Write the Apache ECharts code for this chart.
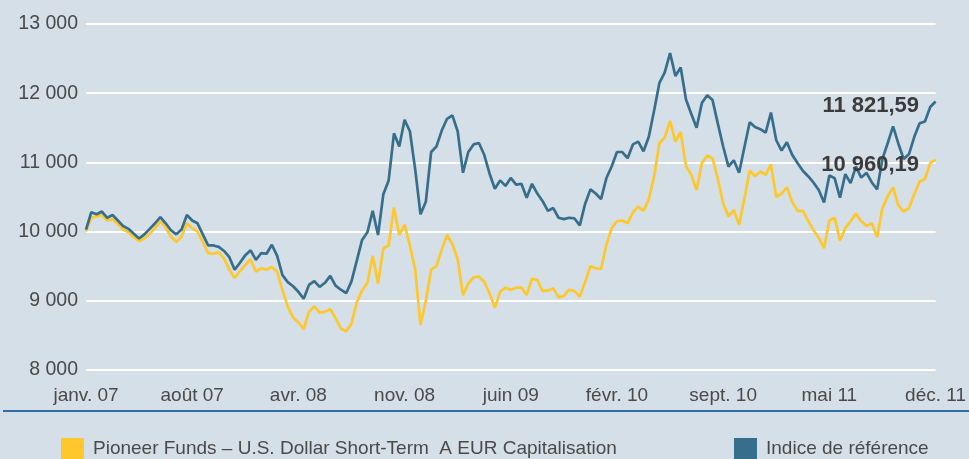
<!DOCTYPE html>
<html>
<head>
<meta charset="utf-8">
<title>Pioneer Funds</title>
<script src="https://cdn.jsdelivr.net/npm/echarts@6/dist/echarts.min.js"></script>
<style>
  html, body { margin: 0; padding: 0; background: #d5dfe7; }
  #chart { width: 969px; height: 459px; }
</style>
</head>
<body>
<div id="chart"></div>
<script>
// libellés de l'axe des x (un tous les 20 points)
const tickLabels = ['janv. 07', 'août 07', 'avr. 08', 'nov. 08', 'juin 09', 'févr. 10', 'sept. 10', 'mai 11', 'déc. 11']
const step = 20

const seriesNames = ['Pioneer Funds – U.S. Dollar Short-Term  A EUR Capitalisation', 'Indice de référence']
const endValues = [10960.19, 11821.59]

// fonds (jaune)
const fundValues = [
  10000, 10200, 10220, 10240, 10160, 10180, 10110, 10030, 9990, 9920,
  9860, 9900, 9970, 10050, 10150, 10060, 9930, 9850, 9930, 10120,
  10050, 10000, 9850, 9690, 9680, 9700, 9610, 9450, 9330, 9430,
  9520, 9600, 9420, 9470, 9450, 9490, 9420, 9150, 8920, 8760,
  8690, 8590, 8840, 8920, 8830, 8840, 8880, 8750, 8600, 8560,
  8670, 8980, 9150, 9260, 9650, 9250, 9760, 9800, 10350, 9950,
  10100, 9800, 9450, 8650, 9000, 9450, 9500, 9740, 9950, 9820,
  9600, 9080, 9250, 9340, 9350, 9275, 9110, 8900, 9130, 9190,
  9160, 9190, 9190, 9085, 9320, 9300, 9140, 9150, 9180, 9050,
  9070, 9160, 9140, 9060, 9270, 9500, 9470, 9460, 9810, 10050,
  10150, 10160, 10120, 10280, 10360, 10300, 10470, 10800, 11280, 11360,
  11600, 11300, 11440, 10950, 10820, 10600, 10990, 11100, 11060, 10760,
  10410, 10220, 10310, 10100, 10480, 10880, 10800, 10870, 10820, 10970,
  10500, 10550, 10640, 10430, 10300, 10300, 10160, 10020, 9910, 9760,
  10160, 10200, 9870, 10050, 10150, 10260, 10150, 10080, 10120, 9920,
  10340, 10510, 10640, 10380, 10290, 10340, 10540, 10725, 10760, 10990,
  11040
]

// indice de référence (bleu)
const indexValues = [
  10030, 10280, 10250, 10290, 10200, 10240, 10160, 10080, 10040, 9970,
  9900, 9960, 10040, 10120, 10210, 10120, 10020, 9960, 10030, 10240,
  10160, 10120, 9960, 9800, 9800, 9780, 9720, 9630, 9450, 9550,
  9660, 9730, 9590, 9690, 9680, 9810, 9650, 9370, 9270, 9210,
  9130, 9030, 9230, 9285, 9200, 9260, 9360, 9220, 9160, 9110,
  9280, 9580, 9880, 9990, 10300, 9950, 10540, 10740, 11420, 11230,
  11615, 11450, 10900, 10250, 10430, 11150, 11230, 11460, 11630, 11680,
  11450, 10850, 11150, 11260, 11280, 11110, 10840, 10620, 10740, 10660,
  10775, 10680, 10690, 10490, 10690, 10550, 10440, 10300, 10340, 10200,
  10180, 10200, 10190, 10090, 10400, 10610, 10550, 10470, 10770, 10940,
  11150, 11150, 11060, 11260, 11300, 11160, 11370, 11750, 12150, 12300,
  12580, 12250, 12370, 11910, 11700, 11500, 11860, 11970, 11900, 11560,
  11230, 10940, 11030, 10850, 11220, 11580, 11510, 11480, 11430, 11720,
  11320, 11170, 11290, 11110, 10990, 10880, 10800, 10710, 10600, 10420,
  10810, 10770, 10490, 10830, 10700, 10940, 10780, 10850, 10710, 10610,
  11050, 11280, 11520, 11270, 11050, 11120, 11370, 11565, 11590, 11800,
  11880
]

const categories = fundValues.map((v, i) => i)

const FONT = '"Liberation Sans", Arial, sans-serif'
const YELLOW = '#fec72c'
const BLUE = '#376e8b'
const TEXT = '#4a4a4a'

// 13000 -> "13 000", 11821.59 -> "11 821,59"
const frNumber = (v, dec) => {
  const parts = v.toFixed(dec).split('.')
  const int = parts[0].replace(/\B(?=(\d{3})+(?!\d))/g, ' ')
  return parts[1] ? int + ',' + parts[1] : int
}

const endMark = (values, text, offsetY) => ({
  symbol: 'circle',
  symbolSize: 1,
  itemStyle: { color: 'rgba(0,0,0,0)' },
  silent: true,
  label: {
    show: true,
    position: 'left',
    distance: 16,
    offset: [0, offsetY],
    formatter: text,
    fontFamily: FONT,
    fontWeight: 'bold',
    fontSize: 22,
    color: '#3b3b3b'
  },
  data: [{ coord: [values.length - 1, values[values.length - 1]] }]
})

const myChart = echarts.init(document.getElementById('chart'), null, { renderer: 'canvas' })
myChart.setOption({
  backgroundColor: '#d5dfe7',
  animation: false,
  grid: {
    left: 86,
    right: 31,
    top: 24,
    bottom: 89
  },
  legend: [{
    data: [seriesNames[0]],
    left: 56,
    top: 433,
    icon: 'rect',
    itemWidth: 23,
    itemHeight: 22,
    textStyle: { fontFamily: FONT, fontSize: 19, color: TEXT, padding: [0, 0, 0, 4] }
  }, {
    data: [seriesNames[1]],
    left: 729,
    top: 433,
    icon: 'rect',
    itemWidth: 23,
    itemHeight: 22,
    textStyle: { fontFamily: FONT, fontSize: 19, color: TEXT, padding: [0, 0, 0, 4] }
  }],
  xAxis: {
    type: 'category',
    boundaryGap: false,
    data: categories,
    axisLine: { show: false },
    axisTick: { show: false },
    axisLabel: {
      interval: step - 1,
      margin: 16,
      fontFamily: FONT,
      fontSize: 19,
      color: TEXT,
      formatter: (v, i) => tickLabels[i / step] || ''
    },
    splitLine: { show: false }
  },
  yAxis: {
    type: 'value',
    min: 8000,
    max: 13000,
    interval: 1000,
    axisLine: { show: false },
    axisTick: { show: false },
    axisLabel: {
      margin: 8,
      fontFamily: FONT,
      fontSize: 19.5,
      color: TEXT,
      formatter: v => frNumber(v, 0)
    },
    splitLine: { lineStyle: { color: '#ffffff', width: 2 } }
  },
  graphic: [{
    // trait bleu de séparation au-dessus de la légende
    type: 'line',
    shape: { x1: 3, y1: 411, x2: 969, y2: 411 },
    style: { stroke: '#2f70a9', lineWidth: 2 }
  }],
  series: [{
    name: seriesNames[0],
    type: 'line',
    data: fundValues,
    showSymbol: false,
    lineStyle: { color: YELLOW, width: 2.7 },
    itemStyle: { color: YELLOW },
    markPoint: endMark(fundValues, frNumber(endValues[0], 2), 5)
  }, {
    name: seriesNames[1],
    type: 'line',
    data: indexValues,
    showSymbol: false,
    lineStyle: { color: BLUE, width: 2.7 },
    itemStyle: { color: BLUE },
    markPoint: endMark(indexValues, frNumber(endValues[1], 2), 4)
  }]
})
</script>
</body>
</html>
